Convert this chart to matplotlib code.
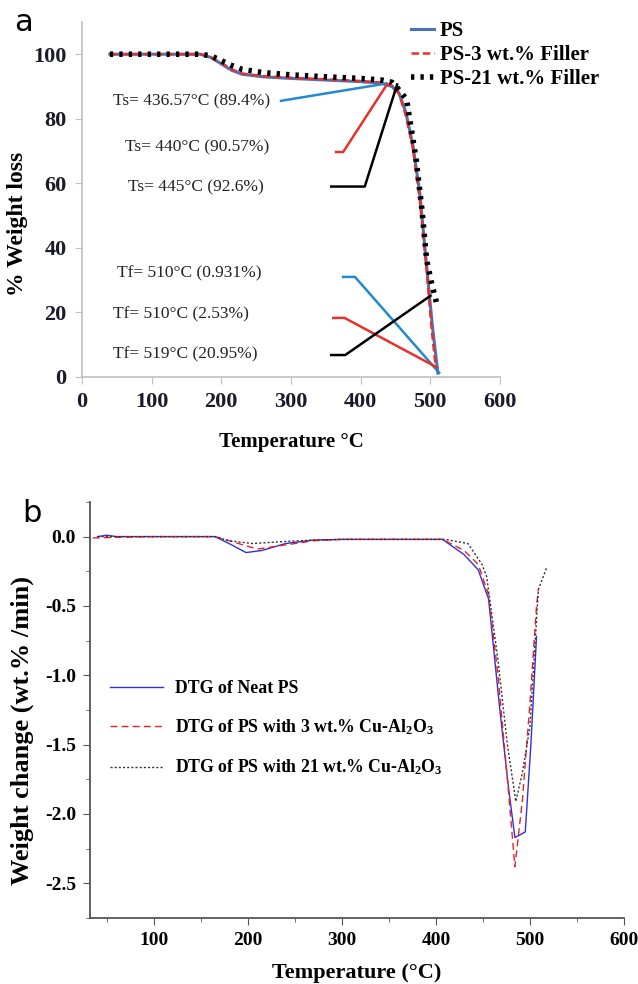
import numpy as np
import matplotlib
matplotlib.use("Agg")
import matplotlib.pyplot as plt
from matplotlib.ticker import MultipleLocator

plt.rcParams['font.family'] = ['Liberation Serif', 'DejaVu Serif']
plt.rcParams['mathtext.fontset'] = 'custom'
plt.rcParams['mathtext.rm'] = 'Liberation Serif:bold'
plt.rcParams['mathtext.bf'] = 'Liberation Serif:bold'
plt.rcParams['mathtext.default'] = 'rm'

# ---- panel a : TGA curves (temperature in C, weight %)
ps_T = [40, 100, 170, 185, 200, 215, 230, 260, 300, 350, 400, 430, 445, 455, 465, 475, 485, 495, 503, 511]
ps_W = [100, 100, 100, 99, 97, 95, 93.8, 93, 92.5, 92, 91.5, 91, 90, 88, 82, 72, 57, 34, 16, 1.2]
ps3_T = [40, 100, 170, 185, 200, 215, 230, 260, 300, 350, 400, 430, 445, 455, 465, 475, 485, 495, 502, 508]
ps3_W = [100, 100, 100, 99, 97.3, 95.3, 94, 93.2, 92.7, 92.2, 91.7, 91.2, 90.3, 88, 81, 71, 55, 33, 15, 2.8]
ps21_T = [40, 100, 170, 185, 200, 215, 230, 260, 300, 350, 400, 430, 445, 455, 466, 480, 488, 495, 502, 509]
ps21_W = [100, 100, 100, 99.5, 98, 96.5, 95.3, 94.3, 93.6, 93, 92.5, 92, 91.3, 89, 86, 67, 52, 36, 29, 23]

# callouts: text, colour, text pos, line points
callout_text = ["Ts= 436.57°C (89.4%)", "Ts= 440°C (90.57%)", "Ts= 445°C (92.6%)",
                "Tf= 510°C (0.931%)", "Tf= 510°C (2.53%)", "Tf= 519°C (20.95%)"]
callout_col = ["#1f8ad0", "#e8312a", "black", "#1f8ad0", "#e8312a", "black"]
callout_xy = [(44, 85.4), (62, 71.2), (66, 58.8), (50, 32.2), (44, 19.5), (44, 7.1)]
callout_lx = [[284, 439], [363, 375, 439], [356, 406, 453], [373, 392, 514], [359, 377, 511], [356, 378, 502]]
callout_ly = [[85.5, 91], [69.7, 69.7, 91], [59, 59, 91], [31, 31, 1], [18.3, 18.3, 2.8], [6.8, 6.8, 25.4]]

# ---- panel b : DTG curves (temperature in C, wt.%/min)
dtg_ps_T = [40, 50, 60, 100, 165, 180, 198, 215, 240, 270, 300, 350, 407, 430, 445, 456, 468, 477, 484, 495, 501, 507]
dtg_ps_V = [0.0, 0.01, 0.0, 0.0, 0.0, -0.05, -0.115, -0.1, -0.05, -0.025, -0.02, -0.02, -0.02, -0.13, -0.24, -0.45, -1.25, -1.8, -2.17, -2.13, -1.5, -0.72]
dtg_3_T = [35, 60, 100, 165, 185, 210, 240, 270, 300, 350, 407, 430, 445, 456, 466, 476, 484, 492, 500, 507, 509]
dtg_3_V = [-0.01, -0.005, 0.0, 0.0, -0.04, -0.09, -0.06, -0.03, -0.02, -0.02, -0.02, -0.1, -0.2, -0.42, -1.0, -1.75, -2.38, -1.9, -1.2, -0.5, -0.38]
dtg_21_T = [40, 100, 165, 180, 205, 240, 270, 300, 350, 410, 434, 449, 454, 466, 476, 485, 492, 500, 509, 518]
dtg_21_V = [0.0, 0.0, 0.0, -0.03, -0.05, -0.035, -0.025, -0.02, -0.02, -0.02, -0.05, -0.2, -0.29, -0.89, -1.5, -1.91, -1.7, -1.37, -0.38, -0.22]

fig = plt.figure(figsize=(6.38, 9.84), dpi=100)

# ================= panel a
ax1 = fig.add_axes([0.1285, 0.6169, 0.655, 0.3608])
ax1.plot(ps_T, ps_W, color="#4a72b8", lw=2.2, label="PS")
ax1.plot(ps3_T, ps3_W, color="#e53030", lw=1.8, ls=(0, (3, 1.5)), label="PS-3 wt.% Filler")
ax1.plot(ps21_T, ps21_W, color="black", lw=4, ls=(0, (0.6, 1.1)), label="PS-21 wt.% Filler")

for txt, c, (tx, ty), lx, ly in zip(callout_text, callout_col, callout_xy, callout_lx, callout_ly):
    ax1.plot(lx, ly, color=c, lw=1.8, solid_capstyle='butt')
    ax1.text(tx, ty, txt, fontsize=12.5, va='center', ha='left', color='#222')

ax1.set_xlim(0, 600)
ax1.set_ylim(0, 110)
ax1.set_xticks(range(0, 601, 100))
ax1.set_yticks(range(0, 101, 20))
for s in ['top', 'right']:
    ax1.spines[s].set_visible(False)
for s in ['left', 'bottom']:
    ax1.spines[s].set_color('#bfbfbf')
    ax1.spines[s].set_linewidth(1.2)
ax1.tick_params(direction='out', length=5, color='#bfbfbf', labelsize=16, pad=6, labelcolor='#1a1a2a')
for lab in ax1.get_xticklabels() + ax1.get_yticklabels():
    lab.set_fontweight('bold')
ax1.set_xlabel("Temperature °C", fontsize=15, fontweight='bold', labelpad=14)
ax1.set_ylabel("% Weight loss", fontsize=17, fontweight='bold')
ax1.yaxis.set_label_coords(-0.13, 0.43)
fig.legend(loc='upper left', bbox_to_anchor=(0.631, 0.987), frameon=False,
           prop={'weight': 'bold', 'size': 15}, handlelength=1.1, handletextpad=0.3,
           labelspacing=0.2, borderaxespad=0)
fig.text(0.022, 0.992, "a", fontsize=22, family='DejaVu Sans', va='top')

# ================= panel b
ax2 = fig.add_axes([0.141, 0.0671, 0.837, 0.4228])
ax2.plot(dtg_ps_T, dtg_ps_V, color="#3030e0", lw=1.0, label="DTG of Neat PS")
ax2.plot(dtg_3_T, dtg_3_V, color="#f02020", lw=1.0, ls=(0, (5, 3)),
         label=r"DTG of PS with 3 wt.% Cu-Al$_2$O$_3$")
ax2.plot(dtg_21_T, dtg_21_V, color="#333333", lw=1.0, ls=(0, (1.5, 1.5)),
         label=r"DTG of PS with 21 wt.% Cu-Al$_2$O$_3$")
ax2.set_xlim(32, 600)
ax2.set_ylim(-2.75, 0.25)
ax2.xaxis.set_minor_locator(MultipleLocator(50))
ax2.yaxis.set_minor_locator(MultipleLocator(0.25))
ax2.set_xticks(range(100, 601, 100))
ax2.set_yticks(np.arange(-2.5, 0.01, 0.5))
ax2.set_yticklabels([f"{v:.1f}" for v in np.arange(-2.5, 0.01, 0.5)])
for s in ['top', 'right']:
    ax2.spines[s].set_visible(False)
for s in ['left', 'bottom']:
    ax2.spines[s].set_color('#555555')
    ax2.spines[s].set_linewidth(1.3)
ax2.tick_params(which='major', direction='out', length=5, color='#555555', labelsize=14, pad=5)
ax2.tick_params(which='minor', direction='out', length=3, color='#555555')
for lab in ax2.get_xticklabels() + ax2.get_yticklabels():
    lab.set_fontweight('bold')
ax2.set_xlabel("Temperature (°C)", fontsize=16, fontweight='bold', labelpad=10)
ax2.set_ylabel("Weight change (wt.% /min)", fontsize=19, fontweight='bold')
ax2.yaxis.set_label_coords(-0.105, 0.45)
ax2.legend(loc='upper left', bbox_to_anchor=(0.007, 0.61), frameon=False,
           prop={'weight': 'bold', 'size': 12.8}, handlelength=3.0, handletextpad=0.7,
           labelspacing=1.15)
fig.text(0.035, 0.493, "b", fontsize=22, family='DejaVu Sans', va='top')

fig.savefig("out.png", dpi=100)
